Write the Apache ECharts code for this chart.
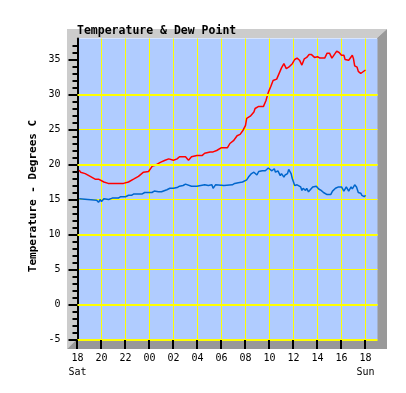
<!DOCTYPE html>
<html>
<head>
<meta charset="utf-8">
<script src="https://cdn.jsdelivr.net/npm/echarts@6/dist/echarts.min.js"></script>
<style>html,body{margin:0;padding:0;background:#fff}#c{width:406px;height:393px}</style>
</head>
<body>
<div id="c"></div>
<script>
// hours after Sat 18:00
const tempHours = [0.14,0.25,0.64,1.06,1.47,1.75,2.2,2.56,3.83,4.25,4.67,5.08,5.5,5.92,6.25,6.5,6.9,7.3,7.6,8.0,8.3,8.5,9.0,9.25,9.5,9.95,10.4,10.6,11.05,11.3,11.6,12.0,12.5,12.7,13.0,13.3,13.55,13.8,14.0,14.1,14.4,14.7,14.8,15.1,15.5,15.7,15.9,16.1,16.3,16.6,16.75,17.0,17.2,17.4,17.6,17.9,18.1,18.3,18.5,18.7,18.9,19.1,19.3,19.5,19.75,20.0,20.2,20.6,20.8,21.0,21.2,21.4,21.6,21.8,22.0,22.2,22.3,22.6,22.7,22.9,23.0,23.1,23.3,23.4,23.6,23.75,24.0];
const tempValues = [19.2,18.9,18.7,18.3,17.9,17.9,17.5,17.3,17.3,17.5,17.9,18.3,18.9,19.0,19.8,19.9,20.3,20.6,20.8,20.6,20.8,21.1,21.1,20.6,21.1,21.3,21.3,21.6,21.8,21.8,22.0,22.4,22.4,23.0,23.4,24.1,24.3,24.9,25.6,26.6,26.9,27.5,28.0,28.3,28.3,29.1,30.3,31.1,32.0,32.2,32.8,33.8,34.4,33.7,33.9,34.4,35.0,35.2,34.9,34.2,35.1,35.3,35.7,35.7,35.3,35.4,35.2,35.2,35.9,35.9,35.2,35.7,36.2,36.0,35.6,35.6,35.0,34.9,35.0,35.6,35.1,34.1,33.9,33.3,33.0,33.2,33.5];
const dewHours = [0.14,0.25,1.6,1.75,1.9,2.0,2.2,2.3,2.6,2.9,3.4,3.6,4.0,4.25,4.5,4.7,5.4,5.6,6.2,6.4,6.75,7.0,7.45,7.7,8.0,8.3,8.5,8.8,9.0,9.1,9.5,9.95,10.1,10.6,10.9,11.2,11.3,11.5,11.6,12.2,12.3,12.9,13.1,13.4,13.75,13.9,14.1,14.25,14.5,14.7,14.8,14.95,15.1,15.4,15.5,15.65,15.9,16.05,16.2,16.4,16.5,16.7,16.9,17.0,17.2,17.3,17.5,17.6,17.8,17.9,18.1,18.3,18.6,18.7,18.8,19.0,19.1,19.25,19.4,19.6,19.9,20.1,20.3,20.5,20.8,21.1,21.25,21.5,21.75,22.0,22.2,22.4,22.6,22.8,22.9,23.1,23.25,23.4,23.6,23.7,23.9,24.0];
const dewValues = [15.1,14.9,14.9,14.6,15.0,14.7,15.1,14.9,15.0,15.2,15.2,15.4,15.4,15.6,15.6,15.8,15.8,16.0,16.0,16.2,16.1,16.1,16.4,16.6,16.6,16.7,16.9,17.0,17.2,17.0,16.9,16.9,17.1,17.1,17.0,17.1,16.6,17.1,17.0,17.0,17.1,17.1,17.3,17.4,17.5,17.7,17.8,18.2,18.7,18.9,18.7,18.5,19.0,19.1,18.9,19.1,19.5,19.4,19.1,19.4,18.9,19.1,18.4,18.7,18.2,18.5,18.7,19.3,18.7,18.0,17.0,17.1,16.8,16.3,16.6,16.3,16.6,16.1,16.1,16.8,16.9,16.5,16.3,16.0,15.7,15.7,16.2,16.6,16.8,16.8,16.2,16.8,16.2,16.8,16.5,17.1,16.8,16.0,15.9,15.6,15.4,15.6];
const xTickValues = [0,2,4,6,8,10,12,14,16,18,20,22,24];
const xTickLabels = ['18','20','22','00','02','04','06','08','10','12','14','16','18'];
const dayLabels = {0:'Sat',24:'Sun'};
const yTickValues = [-5,0,5,10,15,20,25,30,35];
const yMinorValues = [-5,-4,-3,-2,-1,0,1,2,3,4,5,6,7,8,9,10,11,12,13,14,15,16,17,18,19,20,21,22,23,24,25,26,27,28,29,30,31,32,33,34,35,36,37];
const thickLines = [-5,0,10,20,30];
const titleText = 'Temperature & Dew Point';
const yTitle = 'Temperature - Degrees C';

const tempData = tempHours.map((h,i)=>[h,tempValues[i]]);
const dewData = dewHours.map((h,i)=>[h,dewValues[i]]);
const mono = '"DejaVu Sans Mono", monospace';

const chart = echarts.init(document.getElementById('c'), null, {renderer:'canvas'});
chart.setOption({
  animation:false,
  backgroundColor:'#ffffff',
  graphic:[
    {id:'light', type:'polygon', z:-10, silent:true, shape:{points:[[67,29],[387,29],[377,38],[77,38],[77,339],[67,349]]}, style:{fill:'#cccccc'}},
    {id:'dark', type:'polygon', z:-10, silent:true, shape:{points:[[387,29],[387,349],[67,349],[77,339],[377,339],[377,38]]}, style:{fill:'#999999'}},
    {id:'title', type:'text', x:77, y:31, style:{text:titleText, font:'bold 11.5px '+mono, fill:'#000', textAlign:'left', textVerticalAlign:'middle'}},
    {id:'ytitle', type:'text', x:33, y:196, rotation:Math.PI/2, style:{text:yTitle, font:'bold 11px '+mono, fill:'#000', textAlign:'center', textVerticalAlign:'middle'}}
  ],
  grid:{left:77.5, top:38.5, width:300, height:301, show:true, backgroundColor:'#b0ccff', borderWidth:0},
  xAxis:{
    type:'value', min:0, max:25, interval:2,
    axisLine:{show:false, onZero:false},
    axisTick:{show:false},
    axisLabel:{customValues:xTickValues, margin:12, color:'#000', fontFamily:mono, fontSize:10, lineHeight:14,
      formatter:(v)=>{const i=xTickValues.indexOf(v); if(i<0) return ''; return dayLabels[v]!==undefined ? xTickLabels[i]+'\n'+dayLabels[v] : xTickLabels[i];}},
    splitLine:{show:true, showMinLine:false, showMaxLine:false, lineStyle:{color:'#ffff00', width:1}}
  },
  yAxis:[{
    type:'value', min:-5, max:38, interval:5,
    axisLine:{show:true, onZero:false, lineStyle:{color:'#000', width:2}},
    axisTick:{show:true, customValues:yTickValues, length:9, lineStyle:{color:'#000', width:2}},
    axisLabel:{customValues:yTickValues, margin:17, color:'#000', fontFamily:mono, fontSize:10},
    splitLine:{show:true, showMinLine:false, showMaxLine:false, lineStyle:{color:'#ffff00', width:1}}
  },{
    type:'value', min:-5, max:38, interval:1, position:'left',
    axisLine:{show:false, onZero:false},
    axisTick:{show:true, customValues:yMinorValues, length:5, lineStyle:{color:'#000', width:2}},
    axisLabel:{show:false},
    splitLine:{show:false}
  }],
  series:[
    {type:'line', data:[], z:1, silent:true,
      markLine:{silent:true, symbol:'none', animation:false, label:{show:false},
        lineStyle:{color:'#ffff00', width:2, type:'solid'},
        data:thickLines.map(v=>({yAxis:v}))}},
    {type:'line', data:tempData, showSymbol:false, z:3, lineStyle:{color:'#ff0000', width:1.5}, itemStyle:{color:'#ff0000'}},
    {type:'line', data:dewData, showSymbol:false, z:3, lineStyle:{color:'#0066cc', width:1.5}, itemStyle:{color:'#0066cc'}}
  ]
});
// x-axis tick marks placed through the axis scales
const yBase = chart.convertToPixel({yAxisIndex:0}, -5);
const tickEls = xTickValues.map((v,i)=>{
  const x = Math.round(chart.convertToPixel({xAxisIndex:0}, v) - 0.5);
  return {id:'xt'+i, type:'line', z:20, silent:true,
    shape:{x1:x, y1:Math.round(yBase), x2:x, y2:Math.round(yBase)+9},
    style:{stroke:'#000', lineWidth:2}};
});
chart.setOption({graphic:tickEls});
</script>
</body>
</html>
